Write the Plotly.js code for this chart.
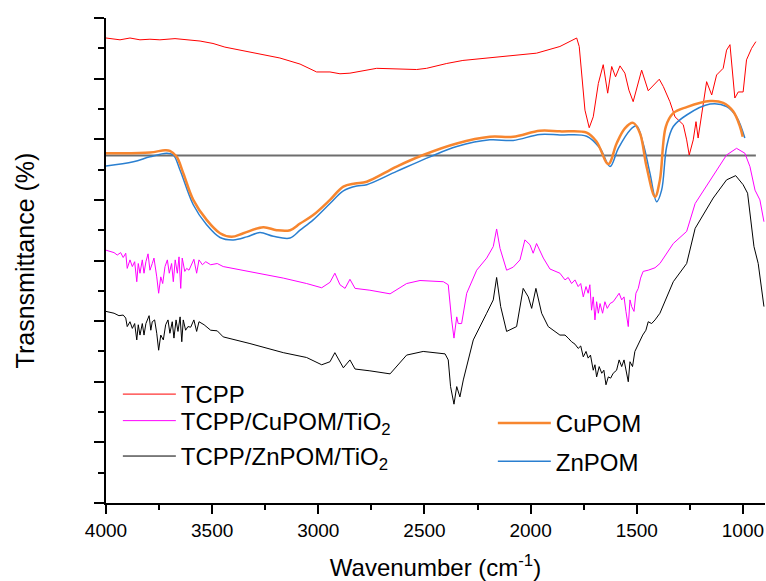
<!DOCTYPE html>
<html>
<head>
<meta charset="utf-8">
<script src="https://cdn.plot.ly/plotly-3.0.1.min.js"></script>
<style>html,body{margin:0;padding:0;background:#fff;}#chart{width:766px;height:581px;}</style>
</head>
<body>
<div id="chart"></div>
<script>
// TCPP
var xTCPP = [4000,3934,3887,3840,3793,3746,3675,3604,3557,3496,3440,3181,3086,3008,2945,2898,2851,2725,2631,2537,2490,2395,2319,2160,1972,1862,1815,1783,1771,1755,1744,1724,1705,1681,1658,1637,1618,1600,1579,1556,1537,1517,1477,1446,1422,1394,1375,1344,1320,1281,1265,1253,1234,1221,1211,1195,1171,1147,1124,1093,1077,1061,1053,1038,1022,999,983,959,939];
var yTCPP = [76.7,76.4,76.7,76.4,76.5,76.4,76.6,76.4,76.2,75.8,75.2,73.4,72.4,71.1,71.1,70.8,70.9,71.7,71.6,71.5,71.7,72.5,73.0,73.6,74.2,75.3,76.1,76.7,75.3,68.7,64.8,61.9,63.7,69.2,72.3,67.6,72.0,70.3,72.1,70.9,68.1,66.2,71.4,68.0,68.8,69.9,68.7,66.2,63.7,62.4,59.9,57.4,59.9,62.9,60.2,63.7,69.5,67.3,70.6,71.7,74.7,75.6,72.5,66.8,67.8,67.8,73.1,75.0,76.1];

// CuPOM
var xCuPOM = [4000,3793,3722,3699,3667,3636,3589,3526,3463,3408,3353,3259,3196,3133,3086,3024,2945,2882,2827,2772,2631,2506,2348,2192,2082,1956,1862,1736,1689,1634,1595,1556,1517,1485,1454,1414,1391,1363,1328,1265,1155,1093,1046,1014,1001];
var yCuPOM = [57.7,57.8,58.2,58.1,57.1,54.4,50.0,46.7,44.5,43.9,44.5,45.5,45.0,45.0,46.1,47.5,50.0,52.2,52.7,53.0,55.5,57.4,59.3,60.4,60.4,61.4,61.3,61.1,59.6,55.9,59.3,61.8,62.7,61.0,55.5,50.5,53.3,62.1,64.3,65.3,66.3,66.0,64.6,62.1,60.4];

// ZnPOM
var xZnPOM = [4000,3871,3793,3714,3683,3651,3589,3526,3463,3400,3337,3275,3212,3133,3086,3024,2945,2882,2819,2772,2631,2474,2348,2192,2082,1956,1862,1736,1673,1626,1587,1532,1501,1470,1438,1406,1383,1359,1328,1265,1155,1077,1030,991];
var yZnPOM = [55.6,56.3,57.1,57.7,57.4,54.9,49.2,45.9,43.8,43.4,43.9,44.6,44.0,43.7,45.0,46.7,49.4,51.5,52.3,52.5,54.7,57.1,58.8,59.9,59.8,60.8,60.7,60.5,58.5,55.5,58.5,61.5,62.2,59.3,54.4,49.7,51.6,58.8,62.1,64.0,65.8,65.4,63.7,60.2];

// TCPP/CuPOM/TiO2
var xCuTiO2 = [4000,3962,3947,3931,3919,3907,3900,3887,3876,3865,3855,3848,3840,3829,3821,3812,3802,3793,3782,3774,3761,3752,3742,3733,3722,3711,3702,3691,3683,3674,3664,3656,3648,3641,3629,3620,3609,3598,3586,3573,3562,3546,3530,3507,3476,3448,3322,3165,3055,2984,2945,2922,2898,2874,2851,2827,2757,2662,2584,2521,2411,2388,2372,2361,2348,2341,2325,2301,2254,2207,2176,2160,2144,2113,2082,2050,2027,2003,1988,1972,1940,1909,1862,1838,1823,1807,1791,1776,1764,1752,1739,1729,1721,1713,1705,1697,1689,1681,1673,1661,1650,1639,1626,1611,1595,1583,1571,1560,1551,1540,1532,1524,1513,1504,1493,1482,1470,1446,1414,1391,1328,1265,1225,1140,1077,1030,991,967,943,920,901];
var yCuTiO2 = [41.7,41.3,40.9,41.3,40.5,41.2,38.7,40.1,39.0,39.8,36.5,39.5,37.9,40.1,37.9,39.8,41.1,38.4,39.5,40.4,37.3,34.6,37.3,36.2,39.0,40.1,37.9,39.5,36.5,40.1,37.9,40.6,35.4,40.4,38.2,38.7,38.4,39.3,40.2,37.9,40.1,39.3,39.8,39.3,39.5,39.0,38.2,37.1,36.2,35.5,36.4,37.9,36.0,35.4,36.9,35.4,35.1,34.5,36.2,36.7,36.5,36.0,30.2,27.2,30.7,29.6,29.6,34.6,38.4,40.4,42.3,45.2,42.0,38.4,38.9,40.1,43.4,42.6,41.2,42.8,40.4,38.6,37.9,36.8,37.2,36.2,36.8,35.7,36.2,34.0,35.7,34.6,36.0,31.8,34.0,30.2,33.2,31.3,32.9,31.3,33.2,32.1,32.9,33.2,34.0,34.6,33.5,34.0,31.6,29.1,33.5,32.4,31.6,34.6,35.4,37.1,38.2,38.4,38.8,39.5,42.8,44.8,49.4,54.1,57.4,58.5,57.7,55.5,51.6,50.0,46.4];

// TCPP/ZnPOM/TiO2
var xZnTiO2 = [4000,3962,3939,3919,3907,3900,3887,3876,3865,3855,3848,3840,3829,3821,3812,3797,3789,3782,3771,3761,3752,3742,3730,3719,3708,3699,3688,3680,3670,3661,3651,3643,3636,3625,3614,3601,3586,3573,3562,3538,3507,3476,3448,3322,3165,3055,2984,2945,2922,2882,2851,2827,2757,2662,2584,2506,2403,2388,2377,2361,2348,2333,2317,2270,2207,2176,2160,2141,2113,2066,2035,2011,1995,1975,1948,1917,1862,1838,1823,1807,1791,1776,1764,1752,1739,1729,1718,1705,1697,1689,1677,1665,1655,1645,1634,1623,1611,1595,1583,1571,1560,1551,1540,1532,1520,1509,1498,1485,1472,1457,1446,1430,1414,1391,1328,1265,1225,1140,1077,1034,999,978,959,948,928,912,901];
var yZnTiO2 = [31.6,31.3,30.9,31.0,30.5,29.1,29.9,28.8,29.6,26.9,29.4,27.7,29.6,27.7,29.6,30.9,28.5,29.9,30.2,28.0,25.2,27.7,26.9,29.4,30.2,28.0,29.9,27.2,30.2,28.3,30.7,26.6,30.2,28.5,29.1,29.0,30.2,28.3,29.9,29.4,28.5,28.4,27.4,26.3,24.8,24.0,22.8,23.3,24.8,22.3,23.6,22.1,21.8,21.3,24.4,25.0,24.6,23.6,19.2,16.3,19.2,17.5,20.3,26.9,31.3,33.5,37.2,32.4,28.3,29.1,35.4,34.0,32.1,35.4,31.3,29.1,27.7,27.7,27.2,26.6,26.2,25.5,25.9,24.1,25.0,23.9,24.4,21.9,22.8,20.8,22.5,21.4,21.9,19.5,20.8,20.6,21.4,21.9,23.6,22.5,23.6,21.9,20.0,23.3,22.5,25.0,25.8,26.6,27.7,28.5,29.9,29.6,30.2,31.3,36.5,39.5,45.3,50.3,53.3,54.0,52.5,51.1,45.0,42.3,39.5,35.7,32.4];

// reference baseline
var xBase = [4000, 939];
var yBase = [57.3, 57.3];

var FONT = 'Arial, "Liberation Sans", sans-serif';

var traces = [
  {x: xBase, y: yBase, mode: 'lines', line: {color: '#6e6e6e', width: 2}, showlegend: false, hoverinfo: 'skip'},
  {x: xTCPP, y: yTCPP, mode: 'lines', name: 'TCPP', line: {color: '#ff0000', width: 1}, legend: 'legend'},
  {x: xCuTiO2, y: yCuTiO2, mode: 'lines', name: 'TCPP/CuPOM/TiO<sub>2</sub>', line: {color: '#ff00ff', width: 1}, legend: 'legend2'},
  {x: xZnTiO2, y: yZnTiO2, mode: 'lines', name: 'TCPP/ZnPOM/TiO<sub>2</sub>', line: {color: '#000000', width: 1}, legend: 'legend3'},
  {x: xZnPOM, y: yZnPOM, mode: 'lines', name: 'ZnPOM', line: {color: '#2a7fd0', width: 1.5, shape: 'spline'}, legend: 'legend5'},
  {x: xCuPOM, y: yCuPOM, mode: 'lines', name: 'CuPOM', line: {color: '#f7862f', width: 2.5, shape: 'spline'}, legend: 'legend4'}
];

function leg(x, y) {
  return {
    x: x, y: y, xanchor: 'left', yanchor: 'top',
    bgcolor: 'rgba(0,0,0,0)', borderwidth: 0,
    font: {family: FONT, size: 24, color: '#000'},
    itemwidth: 53
  };
}

var layout = {
  width: 766, height: 581,
  margin: {l: 106, r: 1, t: 18, b: 78},
  paper_bgcolor: '#ffffff', plot_bgcolor: '#ffffff',
  font: {family: FONT, color: '#000'},
  showlegend: true,
  legend: leg(0.018, 0.2701),
  legend2: leg(0.018, 0.2154),
  legend3: leg(0.018, 0.1424),
  legend4: leg(0.587, 0.2103),
  legend5: leg(0.587, 0.1319),
  xaxis: {
    range: [4000, 896], autorange: false,
    tick0: 0, dtick: 500, ticks: 'outside', ticklen: 9, tickwidth: 2, tickcolor: '#000',
    minor: {dtick: 250, ticks: 'outside', ticklen: 5, tickwidth: 2, tickcolor: '#000', showgrid: false},
    showline: true, linewidth: 2, linecolor: '#000', showgrid: false, zeroline: false,
    tickfont: {family: FONT, size: 19, color: '#000'},
    title: {text: 'Wavenumber (cm<sup>-1</sup>)', font: {family: FONT, size: 24, color: '#000'}, standoff: 21}
  },
  yaxis: {
    range: [0, 80], autorange: false,
    tick0: 0, dtick: 10, ticks: 'outside', ticklen: 10, tickwidth: 2, tickcolor: '#000',
    minor: {dtick: 5, ticks: 'outside', ticklen: 6, tickwidth: 2, tickcolor: '#000', showgrid: false},
    showticklabels: false,
    showline: true, linewidth: 2, linecolor: '#000', showgrid: false, zeroline: false,
    title: {text: 'Trasnsmittance (%)', font: {family: FONT, size: 25, color: '#000'}, standoff: 52}
  }
};

Plotly.newPlot('chart', traces, layout, {displayModeBar: false, staticPlot: true});
</script>
</body>
</html>
